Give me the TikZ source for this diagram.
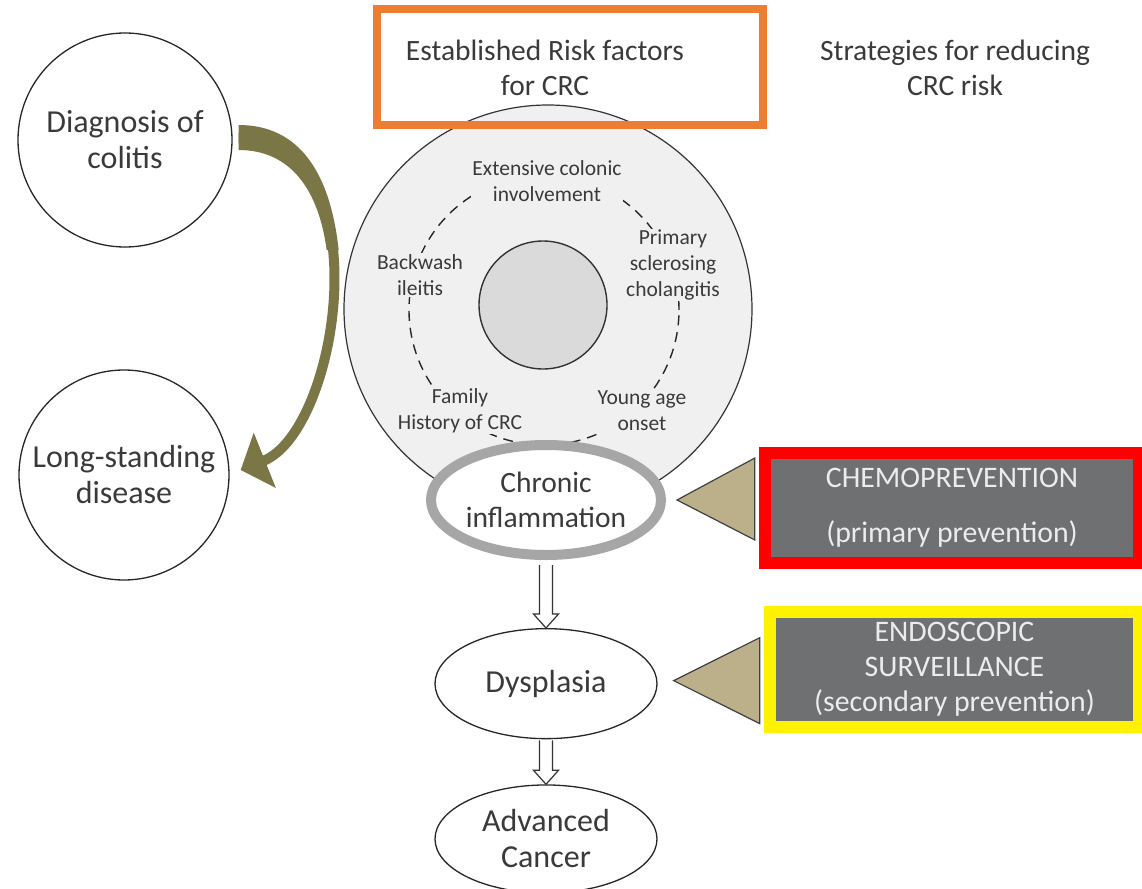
\documentclass[tikz,border=0pt]{standalone}
\usepackage{fontspec}
\setmainfont{Carlito}
\usetikzlibrary{shapes, positioning, calc, fit, arrows.meta}
\definecolor{riskorange}{HTML}{ED7D31}
\definecolor{ringgray}{HTML}{F0F0F0}
\definecolor{coregray}{HTML}{DADADA}
\definecolor{ellipsegray}{HTML}{A6A6A6}
\definecolor{boxgray}{HTML}{6E7072}
\definecolor{boxtext}{HTML}{ECECEC}
\definecolor{wedgetan}{HTML}{BCB08A}
\definecolor{arrowolive}{HTML}{7B7646}
\definecolor{textgray}{HTML}{3A3A3A}
\newcommand{\bigtxt}{\fontsize{32}{36}\selectfont}
\newcommand{\midtxt}{\fontsize{29.5}{35}\selectfont}
\newcommand{\smalltxt}{\fontsize{21.5}{26}\selectfont}
\newcommand{\boxtxt}{\fontsize{29.8}{35}\selectfont}

\begin{document}
\begin{tikzpicture}[x=1pt, y=-1pt,
    stage/.style={circle,
      draw=black!85,
      line width=1.3pt,
      align=center,
      text=textgray,
      font=\bigtxt,
      inner sep=0pt},
    phase/.style={ellipse,
      draw=black!85,
      line width=1.3pt,
      fill=white,
      align=center,
      text=textgray,
      font=\bigtxt,
      inner sep=0pt,
      minimum width=222pt,
      minimum height=110pt},
    factor/.style={align=center, text=textgray, font=\smalltxt,
      fill=ringgray, inner sep=1pt},
    advice/.style={rectangle, rounded corners=4pt, fill=boxgray,
      text=boxtext, font=\boxtxt, align=center, inner sep=0pt},
    frame/.style={rectangle, draw=#1, line width=12pt, inner sep=2pt},
    wedge/.style={draw=black!75, line width=1.2pt, fill=wedgetan},
    hollow/.style={draw=black!80, line width=1.2pt, fill=white},
    coursearrow/.style={draw=arrowolive, line width=10pt,
      -{Triangle[width=58pt, length=26pt]}}]
  \useasboundingbox (0,0) rectangle (1142,888);

  % RISK FACTORS

  \node[circle, draw=black!80, line width=1.2pt, fill=ringgray,
    minimum size=408pt] (riskcircle) at (548,309) {};
  \node[circle, draw=black!85, line width=1.4pt,
    dash pattern=on 10pt off 7pt, minimum size=270pt] (ring) at (544,310) {};
  \node[circle, draw=black!80, line width=1.4pt, fill=coregray,
    minimum size=128pt] (core) at (543,305) {};

  \node[factor] (extensive) at (547,181) {Extensive colonic\\involvement};
  \node[factor] (primary) at (673,265) {Primary\\sclerosing\\cholangitis};
  \node[factor] (backwash) at (420,275) {Backwash\\ileitis};
  \node[factor] (family) at (460,411) {Family\\History of CRC};
  \node[factor] (young) at (642,411) {Young age\\onset};

  \node[draw=riskorange, line width=8pt, minimum width=386pt,
    minimum height=116pt] (riskbox) at (570,67) {};
  \node[align=center, text=textgray, font=\midtxt] (risktitle) at (545,68)
    {Established Risk factors\\for CRC};
  \node[align=center, text=textgray, font=\midtxt] (strategies) at (955,68)
    {Strategies for reducing\\CRC risk};

  % DISEASE COURSE

  \node[stage, minimum size=214pt] (diagnosis) at (125,140) {Diagnosis of\\colitis};
  \node[stage, minimum size=210pt] (longstanding) at (124,475) {Long-standing\\disease};
  \draw[coursearrow] ($(diagnosis.east)+(6,-2)$)
    .. controls +(145,0) and +(100,-40) .. ($(longstanding.east)+(11,-5)$);
  % thicker start of the arrow
  \fill[arrowolive] ($(diagnosis.east)+(6,-15)$)
    .. controls +(62,0) and +(-8,-75) .. ($(diagnosis.east)+(106,110)$)
    -- ($(diagnosis.east)+(94,110)$)
    .. controls +(-8,-60) and +(52,0) .. ($(diagnosis.east)+(6,10)$) -- cycle;

  % PROGRESSION

  \node[phase, draw=ellipsegray, line width=10pt, minimum width=230pt,
    font=\midtxt] (chronic) at (546,500) {Chronic\\inflammation};
  \node[phase, below=68pt of chronic] (dysplasia) {Dysplasia};
  \node[phase, below=45pt of dysplasia, minimum height=108pt] (cancer)
    {Advanced\\Cancer};

  \foreach \from/\to/\gap in {chronic/dysplasia/5pt, dysplasia/cancer/1pt}
    \draw[hollow] let \p1=(\from.south), \p2=(\to.north) in
      (\x1-6.5pt,\y1-\gap) -- (\x1-6.5pt,\y2+14pt) -- (\x1-12.5pt,\y2+14pt)
      -- (\x2,\y2) -- (\x1+12.5pt,\y2+14pt) -- (\x1+6.5pt,\y2+14pt)
      -- (\x1+6.5pt,\y1-\gap);

  % PREVENTION

  \node[advice, minimum width=370pt, minimum height=106pt] (chemo) at (952,508)
    {CHEMOPREVENTION\\[20pt](primary prevention)};
  \node[advice, minimum width=365pt, minimum height=111pt] (endoscopic)
    at (954.5,669.5) {ENDOSCOPIC\\SURVEILLANCE\\(secondary prevention)};

  \draw[wedge] ($(chronic.east)+(11,0)$)
    -- ($(chronic.east -| chemo.west)+(-12,-42)$)
    -- ($(chronic.east -| chemo.west)+(-12,40)$) -- cycle;
  \draw[wedge] ($(dysplasia.east)+(16,-3)$)
    -- ($(dysplasia.east -| endoscopic.west)+(-12,-46)$)
    -- ($(dysplasia.east -| endoscopic.west)+(-12,40)$) -- cycle;

  \node[frame=red, fit=(chemo)] (chemoframe) {};
  \node[frame=yellow, fit=(endoscopic)] (endoframe) {};

\end{tikzpicture}
\end{document}
